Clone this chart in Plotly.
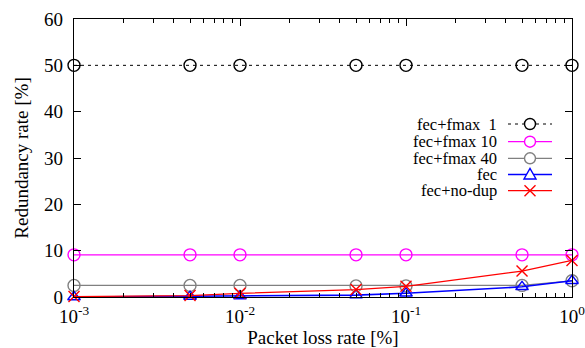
import plotly.graph_objects as go

loss = [0.001, 0.005, 0.01, 0.05, 0.1, 0.5, 1.0]
fmax1 = [50, 50, 50, 50, 50, 50, 50]
fmax10 = [9.1, 9.1, 9.1, 9.1, 9.1, 9.1, 9.1]
fmax40 = [2.5, 2.5, 2.5, 2.4, 2.4, 2.5, 3.5]
fec = [0.0, 0.1, 0.2, 0.4, 0.8, 2.2, 3.5]
nodup = [0.1, 0.3, 0.8, 1.6, 2.3, 5.6, 7.9]

x_tickvals = [0.001, 0.01, 0.1, 1]
x_ticktext = ["10<sup>-3</sup>", "10<sup>-2</sup>", "10<sup>-1</sup>", "10<sup>0</sup>"]

names = ["fec+fmax  1", "fec+fmax 10", "fec+fmax 40", "fec", "fec+no-dup"]
series = [fmax1, fmax10, fmax40, fec, nodup]
colors = ["black", "#ff00ff", "#808080", "#0000ff", "#ff0000"]
symbols = ["circle-open", "circle-open", "circle-open", "triangle-up-open", "x-thin-open"]
dashes = ["3px,4px", "solid", "solid", "solid", "solid"]
widths = [1, 1.3, 1.3, 1.6, 1.3]

FONT = "Liberation Serif"
W, H = 585, 348
L, R, T, B = 74, 13, 19, 51
PW, PH = W - L - R, H - T - B

def px(x):
    return (x - L) / PW

def py(y):
    return (H - B - y) / PH

fig = go.Figure()
for n, s, c, sym, d, w in zip(names, series, colors, symbols, dashes, widths):
    fig.add_trace(go.Scatter(
        x=loss, y=s, mode="lines+markers", name=n, cliponaxis=False,
        line=dict(color=c, width=w, dash=d),
        marker=dict(symbol=sym, size=12 if "circle" in sym else 11,
                    color=c, line=dict(color=c, width=1.4)),
        showlegend=False))

# manual gnuplot-style legend (text right, sample on the right)
leg_y = [124, 141.7, 158.3, 174.5, 190.7]
shapes = []
for n, c, sym, d, w, yy in zip(names, colors, symbols, dashes, widths, leg_y):
    fig.add_annotation(x=px(498), y=py(yy), xref="paper", yref="paper", text=n,
                       showarrow=False, xanchor="right", yanchor="middle", borderpad=0,
                       font=dict(family=FONT, size=16.5, color="black"))
    shapes.append(dict(type="line", xref="paper", yref="paper",
                       x0=px(508), x1=px(552), y0=py(yy), y1=py(yy),
                       line=dict(color=c, width=w, dash=d)))
    if sym == "circle-open":
        shapes.append(dict(type="circle", xref="paper", yref="paper",
                           x0=px(524.5), x1=px(535.5), y0=py(yy + 5.5), y1=py(yy - 5.5),
                           fillcolor="white", line=dict(color=c, width=1.4)))
    elif sym == "triangle-up-open":
        path = "M %f,%f L %f,%f L %f,%f Z" % (px(524), py(yy + 4.5), px(536), py(yy + 4.5),
                                             px(530), py(yy - 6))
        shapes.append(dict(type="path", xref="paper", yref="paper", path=path,
                           fillcolor="white", line=dict(color=c, width=1.4)))
    else:
        path = "M %f,%f L %f,%f M %f,%f L %f,%f" % (px(524.5), py(yy - 5.5), px(535.5), py(yy + 5.5),
                                                  px(524.5), py(yy + 5.5), px(535.5), py(yy - 5.5))
        shapes.append(dict(type="path", xref="paper", yref="paper", path=path,
                           line=dict(color=c, width=1.4)))

fig.update_layout(
    width=W, height=H,
    margin=dict(l=L, r=R, t=T, b=B, autoexpand=False),
    plot_bgcolor="white", paper_bgcolor="white",
    font=dict(family=FONT, size=19, color="black"),
    shapes=shapes,
    xaxis=dict(type="log", range=[-3, 0], tickmode="array", tickvals=x_tickvals,
               ticktext=x_ticktext, automargin=False, ticklabeloverflow="allow",
               showline=True, linecolor="black", linewidth=1.2, mirror="allticks",
               ticks="inside", ticklen=7, tickcolor="black", showgrid=False,
               zeroline=False, tickfont=dict(family=FONT, size=19),
               ticklabelstandoff=2,
               minor=dict(ticks="inside", ticklen=4, tickcolor="black", showgrid=False,
                          tickvals=[0.002, 0.003, 0.004, 0.005, 0.006, 0.007, 0.008, 0.009,
                                    0.02, 0.03, 0.04, 0.05, 0.06, 0.07, 0.08, 0.09,
                                    0.2, 0.3, 0.4, 0.5, 0.6, 0.7, 0.8, 0.9]),
               title=dict(text="Packet loss rate [%]", standoff=2,
                          font=dict(family=FONT, size=19))),
    yaxis=dict(range=[0, 60], dtick=10, showline=True, linecolor="black",
               linewidth=1.2, mirror="allticks", ticks="inside", ticklen=7,
               tickcolor="black", showgrid=False, zeroline=False, automargin=False,
               ticklabeloverflow="allow",
               tickfont=dict(family=FONT, size=19), ticklabelstandoff=6,
               title=dict(text="Redundancy rate [%]", standoff=10,
                          font=dict(family=FONT, size=19))),
)

fig.write_html("out.html", config={"displayModeBar": False},
               post_script="document.body.style.margin='0';document.body.style.padding='0';")
